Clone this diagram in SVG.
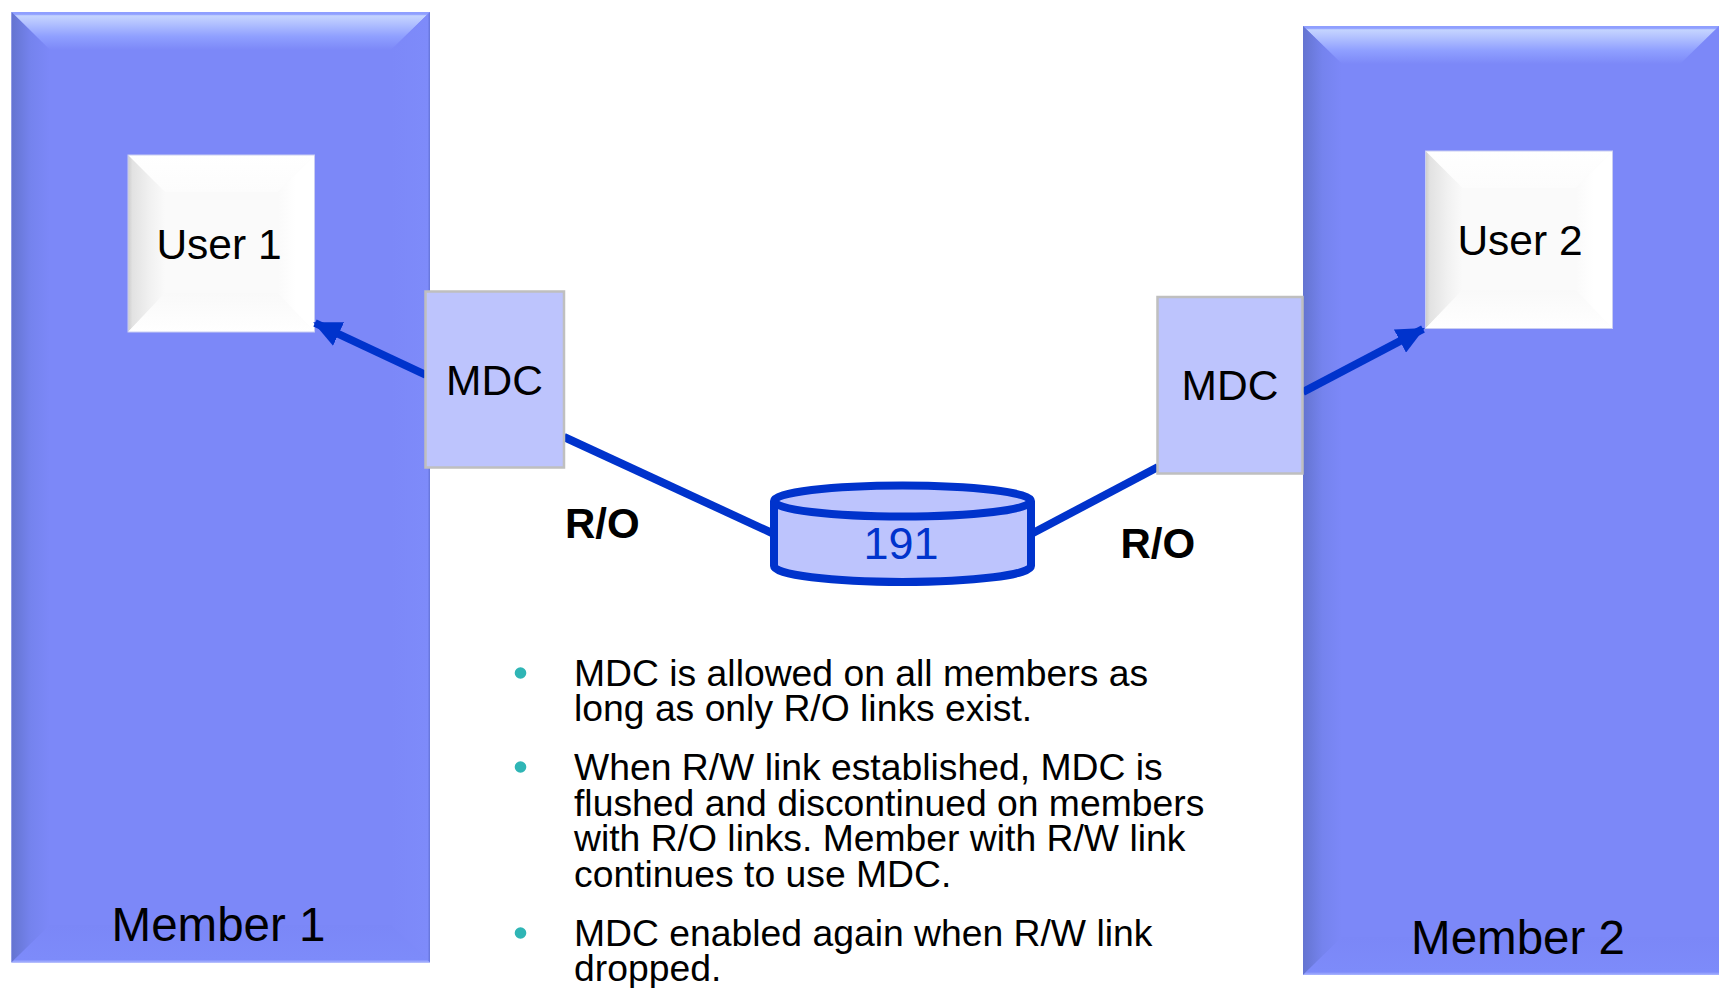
<svg xmlns="http://www.w3.org/2000/svg" width="1719" height="988" viewBox="0 0 1719 988">
<defs>
<linearGradient id="mt" x1="0" y1="0" x2="0" y2="1"><stop offset="0" stop-color="#8f9fff"/><stop offset="0.06" stop-color="#8f9fff"/><stop offset="0.1" stop-color="#c4d4ff"/><stop offset="0.2" stop-color="#bccbff"/><stop offset="0.65" stop-color="#8f9fff"/><stop offset="1" stop-color="#7c88f8"/></linearGradient>
<linearGradient id="ml" x1="0" y1="0" x2="1" y2="0"><stop offset="0" stop-color="#6474d0"/><stop offset="0.5" stop-color="#7583ee"/><stop offset="1" stop-color="#7c88f8"/></linearGradient>
<linearGradient id="mr" x1="0" y1="0" x2="1" y2="0"><stop offset="0" stop-color="#7c88f8"/><stop offset="0.94" stop-color="#7e8bfa"/><stop offset="1" stop-color="#6373d6"/></linearGradient>
<linearGradient id="mb" x1="0" y1="0" x2="0" y2="1"><stop offset="0" stop-color="#7b87f7"/><stop offset="0.92" stop-color="#7d8bfa"/><stop offset="1" stop-color="#aab6ff"/></linearGradient>
<linearGradient id="ul" x1="0" y1="0" x2="1" y2="0"><stop offset="0" stop-color="#cccccc"/><stop offset="0.12" stop-color="#e2e2e2"/><stop offset="0.6" stop-color="#f1f1f1"/><stop offset="1" stop-color="#fafafa"/></linearGradient>
<linearGradient id="ut" x1="0" y1="0" x2="0" y2="1"><stop offset="0" stop-color="#ffffff"/><stop offset="1" stop-color="#fcfcfc"/></linearGradient>
<linearGradient id="ur" x1="0" y1="0" x2="1" y2="0"><stop offset="0" stop-color="#fafafa"/><stop offset="0.5" stop-color="#ffffff"/></linearGradient>
<linearGradient id="ub" x1="0" y1="0" x2="0" y2="1"><stop offset="0" stop-color="#f9f9f9"/><stop offset="1" stop-color="#ffffff"/></linearGradient>
<marker id="ah" markerUnits="userSpaceOnUse" markerWidth="28" markerHeight="26" refX="26" refY="13" orient="auto"><path d="M0 0 L28 13 L0 26 Z" fill="#0033cc"/></marker>
</defs>
<style>
text{font-family:"Liberation Sans",Arial,sans-serif;fill:#000}
.edge{stroke:#0033cc;stroke-width:8;fill:none}
.mdc{fill:#bdc4fd;stroke:#bfbfbf;stroke-width:2.500}
.c{text-anchor:middle}
.n{font-size:42.500px}
.m{font-size:47.500px}
.b{font-size:37.300px}
.ro{font-size:42px;font-weight:bold}
.dot{fill:#2fb5b5}
.ue{fill:none;stroke:#c9cdf2;stroke-width:1}
</style>
<rect width="1719" height="988" fill="#fff"/>
<g id="member1">
<rect x="11.500" y="12" width="418.500" height="950.500" fill="#7c88f8"/>
<polygon points="11.500,12 430,12 391,50 50,50" fill="url(#mt)"/>
<polygon points="11.500,12 50,50 50,925 11.500,962.500" fill="url(#ml)"/>
<polygon points="430,12 430,962.500 391,925 391,50" fill="url(#mr)"/>
<polygon points="11.500,962.500 50,925 391,925 430,962.500" fill="url(#mb)"/>
<text x="218.500" y="941" class="c m">Member 1</text>
</g>
<g id="member2">
<rect x="1303" y="26" width="416" height="949" fill="#7c88f8"/>
<polygon points="1303,26 1719,26 1719,26 1680,64 1342,64" fill="url(#mt)"/>
<polygon points="1303,26 1342,64 1342,937 1303,975" fill="url(#ml)"/>
<polygon points="1303,975 1342,937 1719,937 1719,975" fill="url(#mb)"/>
<text x="1518" y="954" class="c m">Member 2</text>
</g>
<g id="user1">
<rect x="128" y="155" width="186.500" height="177" fill="#fafafa"/>
<polygon points="128,155 314.500,155 277.500,192 165,192" fill="url(#ut)"/>
<polygon points="128,155 165,192 165,293 128,332" fill="url(#ul)"/>
<polygon points="314.500,155 314.500,332 277.500,293 277.500,192" fill="url(#ur)"/>
<polygon points="128,332 165,293 277.500,293 314.500,332" fill="url(#ub)"/>
<rect class="ue" x="128" y="155" width="186.500" height="177"/>
<text x="219" y="259" class="c n">User 1</text>
</g>
<g id="user2">
<rect x="1425.500" y="151" width="187" height="177.500" fill="#fafafa"/>
<polygon points="1425.500,151 1612.500,151 1575.500,188 1462.500,188" fill="url(#ut)"/>
<polygon points="1425.500,151 1462.500,188 1462.500,290 1425.500,328.500" fill="url(#ul)"/>
<polygon points="1612.500,151 1612.500,328.500 1575.500,290 1575.500,188" fill="url(#ur)"/>
<polygon points="1425.500,328.500 1462.500,290 1575.500,290 1612.500,328.500" fill="url(#ub)"/>
<rect class="ue" x="1425.500" y="151" width="187" height="177.500"/>
<text x="1520" y="255" class="c n">User 2</text>
</g>
<g id="connectors">
<line class="edge" x1="426" y1="375" x2="315" y2="323" marker-end="url(#ah)"/>
<line class="edge" x1="1303" y1="392" x2="1423" y2="329" marker-end="url(#ah)"/>
<line class="edge" x1="564" y1="437" x2="772" y2="533"/>
<line class="edge" x1="1033" y1="533" x2="1158" y2="467"/>
</g>
<g id="mdc1">
<rect class="mdc" x="425.500" y="291.500" width="138.500" height="176"/>
<text x="494.500" y="395" class="c n">MDC</text>
</g>
<g id="mdc2">
<rect class="mdc" x="1157.500" y="297" width="145" height="176.500"/>
<text x="1230" y="400" class="c n">MDC</text>
</g>
<g id="disk">
<path d="M774 501 A128.500 15.500 0 0 1 1031 501 V566 A128.500 16 0 0 1 774 566 Z" fill="#bdc4fd" stroke="#0033cc" stroke-width="8" stroke-linejoin="round"/>
<path d="M774 501 A128.500 15.500 0 0 0 1031 501" fill="none" stroke="#0033cc" stroke-width="8"/>
<text x="901" y="559" class="c" font-size="45" style="fill:#0033cc">191</text>
</g>
<g id="labels">
<text x="565" y="538" class="ro">R/O</text>
<text x="1120.500" y="558" class="ro">R/O</text>
</g>
<g id="notes">
<circle class="dot" cx="520.500" cy="673" r="5.800"/>
<text x="574" y="686" class="b">MDC is allowed on all members as</text>
<text x="574" y="721" class="b">long as only R/O links exist.</text>
<circle class="dot" cx="520.500" cy="767" r="5.800"/>
<text x="574" y="780" class="b">When R/W link established, MDC is</text>
<text x="574" y="816" class="b">flushed and discontinued on members</text>
<text x="574" y="851" class="b">with R/O links. Member with R/W link</text>
<text x="574" y="887" class="b">continues to use MDC.</text>
<circle class="dot" cx="520.500" cy="933" r="5.800"/>
<text x="574" y="946" class="b">MDC enabled again when R/W link</text>
<text x="574" y="981" class="b">dropped.</text>
</g>
</svg>
